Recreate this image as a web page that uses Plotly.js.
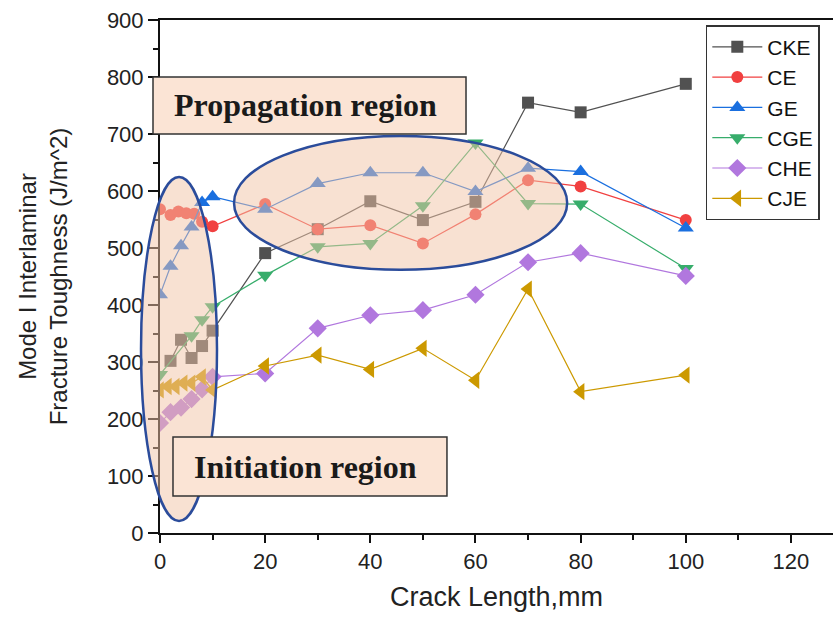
<!DOCTYPE html>
<html>
<head>
<meta charset="utf-8">
<script src="https://cdn.plot.ly/plotly-3.0.1.min.js"></script>
<style>html,body{margin:0;padding:0;background:#fff;}#chart{width:833px;height:617px;}</style>
</head>
<body>
<div id="chart"></div>
<script>
// Data
const seriesNames = ["CKE", "CE", "GE", "CGE", "CHE", "CJE"];

const ckeX = [2, 4, 6, 8, 10, 20, 30, 40, 50, 60, 70, 80, 100];
const ckeY = [302, 339, 307, 328, 355, 491, 533, 582, 549, 581, 755, 738, 788];

const ceX = [0, 2, 3.5, 5, 6.5, 8, 10, 20, 30, 40, 50, 60, 70, 80, 100];
const ceY = [568, 558, 564, 561, 560, 546, 538, 577, 533, 540, 508, 559, 619, 608, 549];

const geX = [0, 2, 4, 6, 8, 10, 20, 30, 40, 50, 60, 70, 80, 100];
const geY = [418, 468, 504, 537, 580, 590, 568, 613, 632, 632, 599, 640, 634, 535];

const cgeX = [0, 6, 8, 10, 20, 30, 40, 50, 60, 70, 80, 100];
const cgeY = [278, 346, 374, 397, 452, 502, 508, 574, 684, 578, 577, 464];

const cheX = [0, 2, 4, 6, 8, 10, 20, 30, 40, 50, 60, 70, 80, 100];
const cheY = [193, 212, 220, 235, 252, 274, 280, 359, 382, 391, 418, 475, 491, 451];

const cjeX = [0, 1.5, 3, 4.5, 6, 8, 10, 20, 30, 40, 50, 60, 70, 80, 100];
const cjeY = [251, 257, 257, 263, 263, 274, 251, 293, 312, 287, 324, 268, 428, 248, 277];

const xTickVals = [0, 20, 40, 60, 80, 100, 120];
const yTickVals = [0, 100, 200, 300, 400, 500, 600, 700, 800, 900];

const xs = [ckeX, ceX, geX, cgeX, cheX, cjeX];
const ys = [ckeY, ceY, geY, cgeY, cheY, cjeY];
const colors = ["#515151", "#F14040", "#1A6FDF", "#37AD6B", "#B177DE", "#CC9900"];
const symbols = ["square", "circle", "triangle-up", "triangle-down", "diamond", "triangle-left"];
const sizes = [12, 12, 14, 14, 14, 15];

const traces = seriesNames.map((n, i) => ({
  type: "scatter",
  mode: "lines+markers",
  name: n,
  x: xs[i],
  y: ys[i],
  line: {color: colors[i], width: 1.2},
  marker: {color: colors[i], symbol: symbols[i], size: sizes[i]}
}));

const axFont = {family: "Liberation Sans, Arial, sans-serif", size: 22, color: "#222"};

const layout = {
  width: 833,
  height: 617,
  margin: {l: 160, r: 0, t: 20, b: 84},
  paper_bgcolor: "#fff",
  plot_bgcolor: "#fff",
  showlegend: true,
  hovermode: false,
  xaxis: {
    range: [0, 128],
    tickvals: xTickVals,
    ticks: "outside",
    ticklen: 8,
    tickwidth: 2,
    tickcolor: "#111",
    minor: {dtick: 10, ticks: "outside", ticklen: 5, tickwidth: 2, tickcolor: "#111"},
    showline: true,
    linewidth: 2,
    linecolor: "#111",
    mirror: true,
    showgrid: false,
    zeroline: false,
    tickfont: axFont,
    title: {text: "Crack Length,mm", font: {family: "Liberation Sans, Arial, sans-serif", size: 27, color: "#222"}, standoff: 14}
  },
  yaxis: {
    range: [0, 900],
    tickvals: yTickVals,
    ticks: "outside",
    ticklen: 10,
    tickwidth: 2,
    tickcolor: "#111",
    minor: {dtick: 50, ticks: "outside", ticklen: 5, tickwidth: 2, tickcolor: "#111"},
    showline: true,
    linewidth: 2,
    linecolor: "#111",
    mirror: true,
    showgrid: false,
    zeroline: false,
    tickfont: axFont,
    title: {text: "Mode I Interlaminar<br>Fracture Toughness (J/m^2)", font: {family: "Liberation Sans, Arial, sans-serif", size: 24, color: "#222"}, standoff: 32}
  },
  legend: {
    x: 0.811, y: 0.99, xanchor: "left", yanchor: "top",
    bgcolor: "#fff", bordercolor: "#333", borderwidth: 1.5,
    font: {family: "Liberation Sans, Arial, sans-serif", size: 21, color: "#111"},
    itemwidth: 50,
    tracegroupgap: 0
  },
  shapes: [
    {type: "circle", xref: "paper", yref: "paper", x0: -0.0282, x1: 0.0847, y0: 0.0234, y1: 0.694,
     fillcolor: "rgba(242,196,166,0.5)", line: {color: "#2B4C9B", width: 2.5}, layer: "above"},
    {type: "circle", xref: "paper", yref: "paper", x0: 0.110, x1: 0.605, y0: 0.513, y1: 0.774,
     fillcolor: "rgba(242,196,166,0.5)", line: {color: "#2B4C9B", width: 2.5}, layer: "above"},
    {type: "rect", xref: "paper", yref: "paper", x0: -0.0104, x1: 0.4547, y0: 0.7778, y1: 0.8889,
     fillcolor: "#FBE4D5", line: {color: "#333", width: 1.5}, layer: "above"},
    {type: "rect", xref: "paper", yref: "paper", x0: 0.0193, x1: 0.4264, y0: 0.0721, y1: 0.1871,
     fillcolor: "#FBE4D5", line: {color: "#333", width: 1.5}, layer: "above"}
  ],
  annotations: [
    {xref: "paper", yref: "paper", x: 0.2155, y: 0.834, xanchor: "center", yanchor: "middle", showarrow: false,
     text: "<b>Propagation region</b>", font: {family: "Liberation Serif, Times New Roman, serif", size: 32, color: "#1a1a1a"}},
    {xref: "paper", yref: "paper", x: 0.2155, y: 0.1293, xanchor: "center", yanchor: "middle", showarrow: false,
     text: "<b>Initiation region</b>", font: {family: "Liberation Serif, Times New Roman, serif", size: 32, color: "#1a1a1a"}}
  ]
};

Plotly.newPlot("chart", traces, layout, {displayModeBar: false, staticPlot: true});
</script>
</body>
</html>
